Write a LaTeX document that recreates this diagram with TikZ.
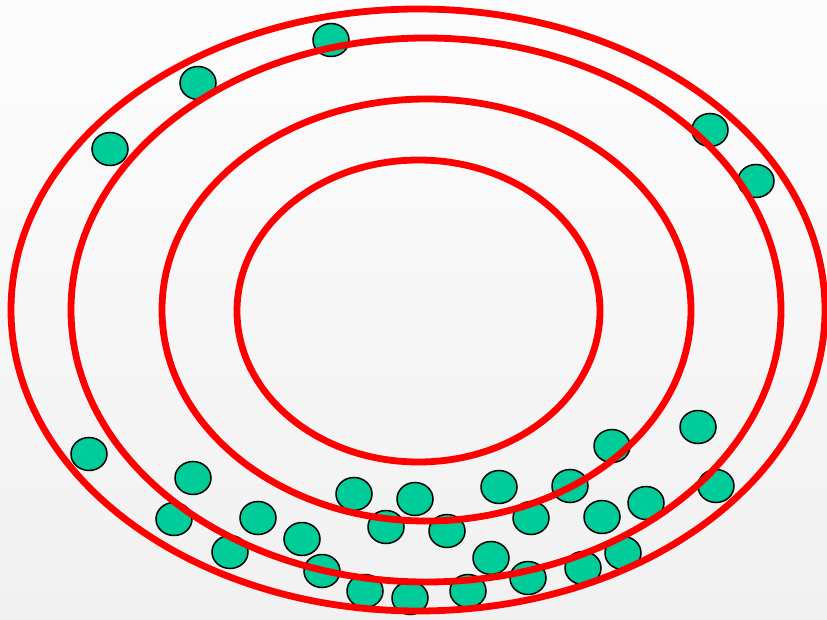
\documentclass[tikz,border=0pt]{standalone}
\usepackage{xcolor}
\usepackage{tikz}
\usetikzlibrary{shapes.geometric}
\definecolor{ringred}{RGB}{255,0,0}
\definecolor{dotgreen}{RGB}{0,204,153}
\tikzset{
    sample/.style={font=\small},
    sample ring/.style={draw=ringred, line width=6.8pt},
    sample dot/.style={ellipse, draw=black, fill=dotgreen, line width=1.5pt,
        minimum width=36pt, minimum height=33pt, inner sep=0pt},
}

\begin{document}
\begin{tikzpicture}[
        sample, x=1pt, y=-1pt,
        backdrop/.style={top color=gray!2, bottom color=gray!11}
    ]
        \shade[backdrop] (0,0) rectangle (827,620);
        \useasboundingbox (0,0) rectangle (827,620);

        \node[sample dot] (d1) at (331,40) {};
        \node[sample dot] (d2) at (198,83) {};
        \node[sample dot] (d3) at (110,149) {};
        \node[sample dot] (d4) at (710,130) {};
        \node[sample dot] (d5) at (756,181) {};
        \node[sample dot] (d6) at (89,454) {};
        \node[sample dot] (d7) at (193,478) {};
        \node[sample dot] (d8) at (174,519) {};
        \node[sample dot] (d9) at (258,518) {};
        \node[sample dot] (d10) at (230,552) {};
        \node[sample dot] (d11) at (302,539) {};
        \node[sample dot] (d12) at (322,571) {};
        \node[sample dot] (d13) at (354,494) {};
        \node[sample dot] (d14) at (386,527) {};
        \node[sample dot] (d15) at (415,499) {};
        \node[sample dot] (d16) at (447,531) {};
        \node[sample dot] (d17) at (365,591) {};
        \node[sample dot] (d18) at (410,598) {};
        \node[sample dot] (d19) at (468,591) {};
        \node[sample dot] (d20) at (491,558) {};
        \node[sample dot] (d21) at (499,487) {};
        \node[sample dot] (d22) at (528,578) {};
        \node[sample dot] (d23) at (531,518) {};
        \node[sample dot] (d24) at (570,486) {};
        \node[sample dot] (d25) at (583,568) {};
        \node[sample dot] (d26) at (602,517) {};
        \node[sample dot] (d27) at (612,446) {};
        \node[sample dot] (d28) at (623,553) {};
        \node[sample dot] (d29) at (646,503) {};
        \node[sample dot] (d30) at (698,427) {};
        \node[sample dot] (d31) at (716,486) {};

        \draw[sample ring] (418,310) ellipse [x radius=407pt, y radius=301pt];
        \draw[sample ring] (426,310) ellipse [x radius=355pt, y radius=272pt];
        \draw[sample ring] (426.5,310) ellipse [x radius=264.5pt, y radius=211pt];
        \draw[sample ring] (418.5,311) ellipse [x radius=181.5pt, y radius=151pt];
    \end{tikzpicture}
\end{document}
